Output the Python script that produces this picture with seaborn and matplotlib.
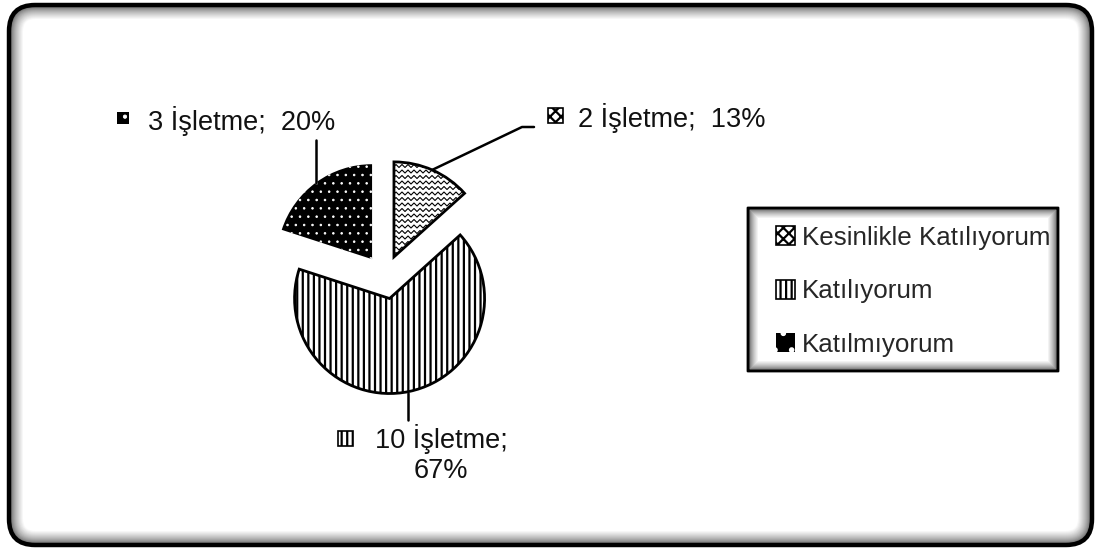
import numpy as np
import matplotlib
matplotlib.use('Agg')
import matplotlib.pyplot as plt
import seaborn as sns
from matplotlib.patches import FancyBboxPatch, Rectangle

sns.set_theme(style="white")
plt.rcParams['font.family'] = ['Liberation Sans', 'DejaVu Sans']
plt.rcParams['hatch.linewidth'] = 1.6

# data
categories = ['Kesinlikle Katılıyorum', 'Katılıyorum', 'Katılmıyorum']
counts = [2, 10, 3]
unit = 'İşletme'

W, H = 1099, 549
fig = plt.figure(figsize=(W / 100, H / 100), dpi=100)
ax = fig.add_axes([0, 0, 1, 1])


def Y(y):
    # image rows (from top) -> axes y
    return H - y


def shadow_box(x0, y0, x1, y1, rad, lw, n=10, z=0.1, g0=0.3):
    # filled layers, dark at the border fading to white inside
    for i in range(n + 1):
        g = g0 + (1 - g0) * (i / n) ** 0.6
        p = FancyBboxPatch((x0 + i, Y(y1) + i), (x1 - x0) - 2 * i, (y1 - y0) - 2 * i,
                           boxstyle=f"round,pad=0,rounding_size={max(rad - i, 0.01)}",
                           fc=str(min(g, 1.0)), ec='none', zorder=z + i * 0.001)
        ax.add_patch(p)
    p = FancyBboxPatch((x0, Y(y1)), x1 - x0, y1 - y0,
                       boxstyle=f"round,pad=0,rounding_size={max(rad, 0.01)}",
                       fc='none', ec='black', lw=lw, zorder=z + 0.05)
    ax.add_patch(p)


def thin_dots(patch):
    try:
        patch.set_hatch_linewidth(0.6)
    except AttributeError:
        pass


# pie
cx, cy, R = 385, Y(277), 95
wedges, _ = ax.pie(counts, startangle=90, counterclock=False, center=(cx, cy),
                   radius=R, explode=[22] * 3, frame=True,
                   wedgeprops=dict(ec='black', lw=2, zorder=2))
ax.set_xlim(0, W)
ax.set_ylim(0, H)
ax.set_axis_off()

shadow_box(9, 5, 1092, 545, 26, 3.2, n=14, z=0.1, g0=0.25)
shadow_box(748, 208, 1058, 371, 0, 2.0, n=10, z=0.3, g0=0.25)

# 13%: wavy texture clipped to wedge
w0 = wedges[0]
w0.set_facecolor('white')
xs = np.arange(cx - 10, cx + 140, 0.5)
for yy in np.arange(cy - 10, cy + 150, 5.5):
    zig = np.abs(((xs / 6.0) % 1.0) - 0.5) * 2 - 0.5
    ln, = ax.plot(xs, yy + zig * 3, color='black', lw=0.8, zorder=3)
    ln.set_clip_path(w0)
# 67%: vertical stripes
wedges[1].set_facecolor('white')
wedges[1].set_hatch('|||')
# 20%: black with white dots
wedges[2].set_facecolor('black')
wedges[2].set_edgecolor('white')
wedges[2].set_linewidth(0)
wedges[2].set_hatch('..')
thin_dots(wedges[2])

styles = [dict(fc='white', ec='black', hatch='xxx'),
          dict(fc='white', ec='black', hatch='|||'),
          dict(fc='black', ec='white', hatch='.')]

total = sum(counts)
pcts = [round(100 * c / total) for c in counts]

fs = 19.5
# data labels with leader lines
lab_pos = [(578, 118, 'left'), (441, 424, 'center'), (148, 121, 'left')]
mark_pos = [(548, 108, 15), (338, 431, 15), (117, 112, 12)]
lines = [[(432, 170), (522, 127), (534, 127)],
         [(408, 393), (408, 420)],
         [(316, 183), (316, 140)]]
for i, (c, p) in enumerate(zip(counts, pcts)):
    if i == 1:
        txt = f"{c} {unit};\n{p}%"
    else:
        txt = f"{c} {unit};  {p}%"
    x, y, ha = lab_pos[i]
    ax.text(x, Y(y), txt, fontsize=fs, ha=ha, va='center' if i != 1 else 'top',
            ma='center', linespacing=1.22, color='#111111', zorder=4)
    mx, my, ms = mark_pos[i]
    r = Rectangle((mx, Y(my + ms)), ms, ms, lw=1.2, zorder=4, **styles[i])
    if i == 2:
        r.set_linewidth(0)
        thin_dots(r)
    ax.add_patch(r)
    pts = np.array([(a, Y(b)) for a, b in lines[i]])
    ax.plot(pts[:, 0], pts[:, 1], color='black', lw=1.8, zorder=4)

# legend
handles = [Rectangle((0, 0), 1, 1, lw=1.2, **s) for s in styles]
handles[2].set_linewidth(0)
thin_dots(handles[2])
leg = ax.legend(handles, categories, loc='upper left', bbox_to_anchor=(776, Y(226)),
                bbox_transform=ax.transData, frameon=False, fontsize=18.7,
                handlelength=0.75, handleheight=0.75, handletextpad=0.25,
                labelspacing=1.13, borderpad=0, borderaxespad=0)
leg.set_zorder(5)

fig.savefig('out.png', dpi=100)
